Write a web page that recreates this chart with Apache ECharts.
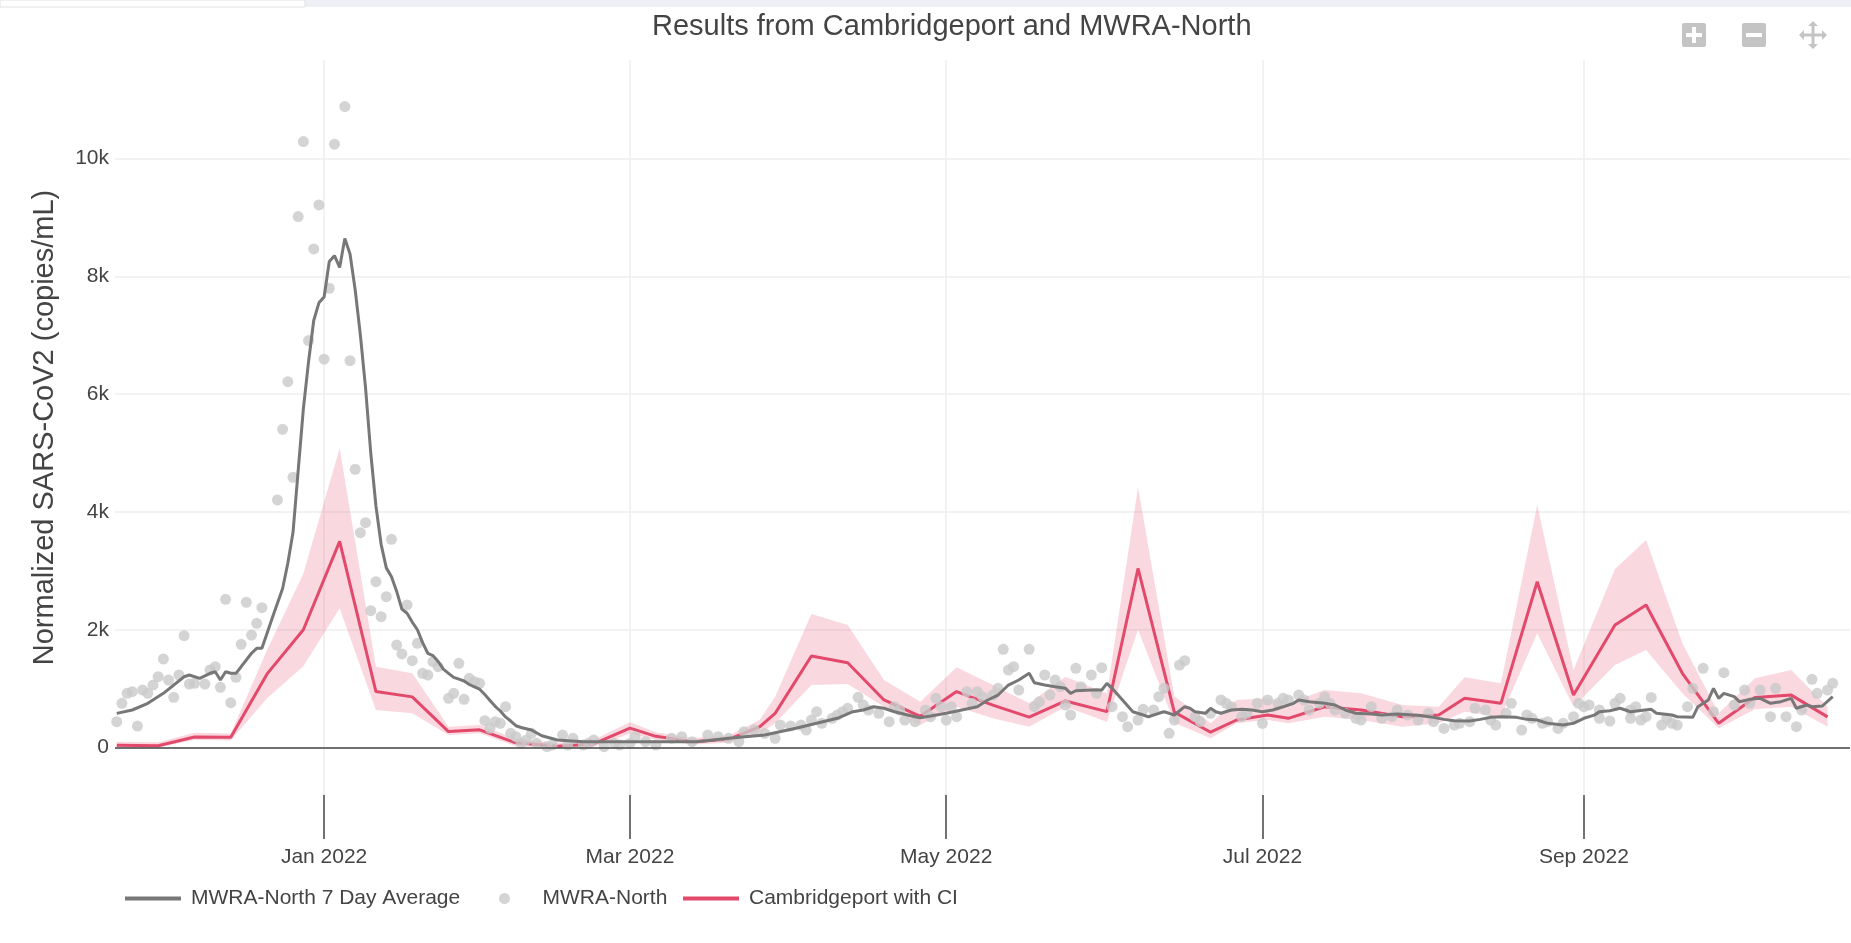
<!DOCTYPE html>
<html>
<head>
<meta charset="utf-8">
<script src="https://cdn.jsdelivr.net/npm/echarts@6/dist/echarts.min.js"></script>
<style>
html,body{margin:0;padding:0;background:#fff;}
#chart{width:1851px;height:943px;}
</style>
</head>
<body>
<div id="chart"></div>
<script>
// ---------- data ----------
const titleText = 'Results from Cambridgeport and MWRA-North';
const yTitle = 'Normalized SARS-CoV2 (copies/mL)';
const seriesNames = ['MWRA-North 7 Day Average', 'MWRA-North', 'Cambridgeport with CI'];

const xTickDates = ['2022-01-01', '2022-03-01', '2022-05-01', '2022-07-01', '2022-09-01'];
const xTickLabels = ['Jan 2022', 'Mar 2022', 'May 2022', 'Jul 2022', 'Sep 2022'];
const yTickValues = [0, 2000, 4000, 6000, 8000, 10000];
const yTickLabels = ['0', '2k', '4k', '6k', '8k', '10k'];

// MWRA-North 7 day average
const avgData = [
['2021-11-22',580],['2021-11-25',637],['2021-11-28',750],['2021-12-01',920],['2021-12-05',1202],['2021-12-06',1231],['2021-12-08',1175],['2021-12-10',1260],['2021-12-11',1287],['2021-12-12',1146],['2021-12-13',1287],['2021-12-14',1260],['2021-12-15',1260],['2021-12-16',1372],['2021-12-18',1600],['2021-12-19',1684],['2021-12-20',1684],['2021-12-21',1939],['2021-12-22',2200],['2021-12-23',2450],['2021-12-24',2700],['2021-12-25',3128],['2021-12-26',3650],['2021-12-27',4700],['2021-12-28',5750],['2021-12-29',6550],['2021-12-30',7250],['2021-12-31',7550],
['2022-01-01',7650],['2022-01-02',8250],['2022-01-03',8350],['2022-01-04',8150],['2022-01-05',8640],['2022-01-06',8380],['2022-01-07',7768],['2022-01-08',7000],['2022-01-09',6100],['2022-01-10',5000],['2022-01-11',4100],['2022-01-12',3450],['2022-01-13',3050],['2022-01-14',2900],['2022-01-15',2650],['2022-01-16',2350],['2022-01-17',2280],['2022-01-18',2130],['2022-01-19',2000],['2022-01-20',1780],['2022-01-21',1600],['2022-01-22',1560],['2022-01-23',1460],['2022-01-24',1330],['2022-01-25',1260],['2022-01-26',1190],['2022-01-27',1160],['2022-01-28',1130],['2022-01-29',1070],['2022-01-30',1030],['2022-01-31',990],
['2022-02-01',900],['2022-02-02',800],['2022-02-03',700],['2022-02-04',620],['2022-02-05',520],['2022-02-06',450],['2022-02-07',370],['2022-02-08',340],['2022-02-10',297],['2022-02-12',200],['2022-02-15',127],['2022-02-20',99],['2022-02-26',99],
['2022-03-02',99],['2022-03-14',99],['2022-03-20',156],['2022-03-27',212],['2022-04-02',326],['2022-04-06',411],['2022-04-10',496],['2022-04-13',608],['2022-04-15',637],['2022-04-17',693],['2022-04-19',666],['2022-04-21',608],['2022-04-25',523],['2022-04-26',506],['2022-04-28',535],
['2022-05-01',581],['2022-05-04',637],['2022-05-07',693],['2022-05-09',807],['2022-05-11',891],['2022-05-13',1061],['2022-05-15',1146],['2022-05-17',1260],['2022-05-18',1100],['2022-05-20',1061],['2022-05-22',1032],['2022-05-24',1005],['2022-05-25',920],['2022-05-26',964],['2022-05-29',976],['2022-05-31',976],
['2022-06-01',1090],['2022-06-02',1005],['2022-06-04',807],['2022-06-06',608],['2022-06-08',552],['2022-06-09',523],['2022-06-11',581],['2022-06-12',608],['2022-06-13',581],['2022-06-14',552],['2022-06-16',693],['2022-06-17',666],['2022-06-18',608],['2022-06-20',581],['2022-06-21',666],['2022-06-22',608],['2022-06-23',581],['2022-06-25',637],['2022-06-27',648],['2022-06-29',637],
['2022-07-01',608],['2022-07-03',637],['2022-07-05',693],['2022-07-07',750],['2022-07-08',807],['2022-07-10',778],['2022-07-13',750],['2022-07-15',722],['2022-07-17',637],['2022-07-19',581],['2022-07-22',569],['2022-07-24',552],['2022-07-27',569],['2022-07-31',546],
['2022-08-03',512],['2022-08-05',478],['2022-08-07',456],['2022-08-10',450],['2022-08-12',478],['2022-08-14',512],['2022-08-16',523],['2022-08-19',512],['2022-08-21',478],['2022-08-23',467],['2022-08-25',411],['2022-08-28',382],['2022-08-30',411],
['2022-09-01',496],['2022-09-03',550],['2022-09-04',608],['2022-09-06',625],['2022-09-08',666],['2022-09-10',608],['2022-09-12',630],['2022-09-14',648],['2022-09-15',581],['2022-09-18',552],['2022-09-19',523],['2022-09-22',512],['2022-09-23',693],['2022-09-25',807],['2022-09-26',1005],['2022-09-27',835],['2022-09-28',920],['2022-09-30',863],
['2022-10-01',778],['2022-10-03',818],['2022-10-05',835],['2022-10-07',750],['2022-10-09',778],['2022-10-11',835],['2022-10-12',666],['2022-10-14',722],['2022-10-15',693],['2022-10-17',705],['2022-10-19',863]
];

// MWRA-North individual samples
const mwraData = [
['2021-11-22',438],['2021-11-23',750],['2021-11-24',920],['2021-11-25',948],['2021-11-26',365],['2021-11-27',976],['2021-11-28',920],['2021-11-29',1061],['2021-11-30',1202],['2021-12-01',1503],['2021-12-02',1146],['2021-12-03',852],['2021-12-04',1231],['2021-12-05',1898],['2021-12-06',1078],['2021-12-07',1090],['2021-12-09',1078],['2021-12-10',1316],['2021-12-11',1372],['2021-12-12',1022],['2021-12-13',2516],['2021-12-14',761],['2021-12-15',1192],['2021-12-16',1752],['2021-12-17',2465],['2021-12-18',1910],['2021-12-19',2109],['2021-12-20',2374],['2021-12-23',4203],['2021-12-24',5403],['2021-12-25',6211],['2021-12-26',4588],['2021-12-27',9013],['2021-12-28',10287],['2021-12-29',6908],['2021-12-30',8465],['2021-12-31',9212],
['2022-01-01',6592],['2022-01-02',7797],['2022-01-03',10242],['2022-01-05',10881],['2022-01-06',6568],['2022-01-07',4724],['2022-01-08',3648],['2022-01-09',3817],['2022-01-10',2323],['2022-01-11',2815],['2022-01-12',2221],['2022-01-13',2561],['2022-01-14',3535],['2022-01-15',1740],['2022-01-16',1588],['2022-01-17',2420],['2022-01-18',1474],['2022-01-19',1769],['2022-01-20',1260],['2022-01-21',1231],['2022-01-22',1457],['2022-01-23',1372],['2022-01-25',835],['2022-01-26',920],['2022-01-27',1430],['2022-01-28',818],['2022-01-29',1175],['2022-01-30',1118],['2022-01-31',1090],
['2022-02-01',456],['2022-02-02',326],['2022-02-03',438],['2022-02-04',411],['2022-02-05',693],['2022-02-06',241],['2022-02-07',184],['2022-02-08',71],['2022-02-09',127],['2022-02-10',241],['2022-02-11',71],['2022-02-13',14],['2022-02-14',42],['2022-02-16',212],['2022-02-17',42],['2022-02-18',156],['2022-02-20',42],['2022-02-21',71],['2022-02-22',127],['2022-02-24',14],['2022-02-26',71],['2022-02-27',42],
['2022-03-01',71],['2022-03-02',184],['2022-03-04',99],['2022-03-06',42],['2022-03-09',156],['2022-03-11',184],['2022-03-13',99],['2022-03-16',212],['2022-03-18',184],['2022-03-20',156],['2022-03-22',99],['2022-03-23',269],['2022-03-25',297],['2022-03-27',240],['2022-03-29',156],['2022-03-30',382],
['2022-04-01',365],['2022-04-03',382],['2022-04-04',297],['2022-04-05',467],['2022-04-06',608],['2022-04-07',410],['2022-04-09',495],['2022-04-10',552],['2022-04-11',608],['2022-04-12',665],['2022-04-14',852],['2022-04-15',722],['2022-04-16',637],['2022-04-18',580],['2022-04-20',438],['2022-04-21',693],['2022-04-22',637],['2022-04-23',467],['2022-04-25',438],['2022-04-27',637],['2022-04-28',523],['2022-04-29',835],['2022-04-30',693],
['2022-05-01',467],['2022-05-02',693],['2022-05-03',523],['2022-05-05',948],['2022-05-06',750],['2022-05-07',948],['2022-05-08',863],['2022-05-10',891],['2022-05-11',1005],['2022-05-12',1667],['2022-05-13',1316],['2022-05-14',1372],['2022-05-15',976],['2022-05-17',1667],['2022-05-18',693],['2022-05-19',778],['2022-05-20',1231],['2022-05-21',891],['2022-05-22',1146],['2022-05-23',1033],['2022-05-24',722],['2022-05-25',552],['2022-05-26',1344],['2022-05-27',1033],['2022-05-29',1231],['2022-05-30',920],['2022-05-31',1355],
['2022-06-02',693],['2022-06-04',523],['2022-06-05',354],['2022-06-07',467],['2022-06-08',648],['2022-06-10',637],['2022-06-11',863],['2022-06-12',1005],['2022-06-13',241],['2022-06-14',467],['2022-06-15',1401],['2022-06-16',1474],['2022-06-18',523],['2022-06-19',438],['2022-06-21',580],['2022-06-23',807],['2022-06-24',750],['2022-06-25',693],['2022-06-27',523],['2022-06-28',580],['2022-06-30',750],
['2022-07-01',410],['2022-07-02',807],['2022-07-04',750],['2022-07-05',835],['2022-07-06',807],['2022-07-08',891],['2022-07-09',807],['2022-07-10',637],['2022-07-12',750],['2022-07-13',863],['2022-07-14',750],['2022-07-15',637],['2022-07-17',580],['2022-07-19',495],['2022-07-20',467],['2022-07-22',693],['2022-07-24',495],['2022-07-26',523],['2022-07-27',637],['2022-07-29',552],['2022-07-31',467],
['2022-08-02',580],['2022-08-03',438],['2022-08-05',325],['2022-08-07',382],['2022-08-08',410],['2022-08-10',438],['2022-08-11',665],['2022-08-13',637],['2022-08-14',467],['2022-08-15',382],['2022-08-17',580],['2022-08-18',750],['2022-08-20',297],['2022-08-21',552],['2022-08-22',495],['2022-08-24',410],['2022-08-25',438],['2022-08-27',325],['2022-08-28',410],['2022-08-30',523],['2022-08-31',750],
['2022-09-01',693],['2022-09-02',722],['2022-09-04',637],['2022-09-04',495],['2022-09-06',450],['2022-09-07',750],['2022-09-08',835],['2022-09-10',637],['2022-09-10',495],['2022-09-11',693],['2022-09-12',467],['2022-09-13',523],['2022-09-14',850],['2022-09-16',382],['2022-09-17',495],['2022-09-18',410],['2022-09-19',382],['2022-09-21',693],['2022-09-22',1005],['2022-09-24',1344],['2022-09-26',608],['2022-09-28',1271],['2022-09-30',722],
['2022-10-02',976],['2022-10-03',750],['2022-10-05',976],['2022-10-07',523],['2022-10-08',1005],['2022-10-10',523],['2022-10-12',354],['2022-10-13',637],['2022-10-15',1158],['2022-10-16',920],['2022-10-18',976],['2022-10-19',1090]
];

// Cambridgeport with confidence interval
const cpDates = ['2021-11-22','2021-11-30','2021-12-07','2021-12-14','2021-12-21','2021-12-28','2022-01-04','2022-01-11','2022-01-18','2022-01-25','2022-01-31','2022-02-07','2022-02-15','2022-02-22','2022-03-01','2022-03-06','2022-03-13','2022-03-20','2022-03-26','2022-03-29','2022-04-05','2022-04-12','2022-04-19','2022-04-26','2022-05-03','2022-05-10','2022-05-17','2022-05-24','2022-06-01','2022-06-07','2022-06-14','2022-06-21','2022-06-26','2022-07-02','2022-07-06','2022-07-13','2022-07-20','2022-07-28','2022-08-04','2022-08-09','2022-08-16','2022-08-23','2022-08-30','2022-09-07','2022-09-13','2022-09-20','2022-09-27','2022-10-04','2022-10-11','2022-10-18'];
const cpValues = [40,30,180,175,1250,2000,3500,950,860,270,300,80,20,60,330,190,100,140,350,580,1555,1440,807,530,950,720,515,790,610,3040,600,260,467,552,496,693,637,523,552,835,750,2815,891,2080,2420,1260,411,850,890,520];
const cpUpper = [100,90,250,240,1656,2950,5080,1372,1260,353,382,150,80,130,430,260,160,200,467,863,2267,2080,1146,778,1362,1061,750,1202,920,4420,870,411,807,835,750,976,920,722,693,1192,1090,4118,1316,3030,3523,1769,581,1175,1316,693];
const cpLower = [0,0,130,120,835,1380,2364,637,580,212,241,20,0,10,240,130,50,80,241,411,1061,1080,693,382,693,496,353,693,438,2000,420,156,411,467,411,523,467,353,411,608,523,1939,693,1400,1656,920,326,650,693,353];

// ---------- chart ----------
const toT = s => Date.UTC(+s.slice(0, 4), +s.slice(5, 7) - 1, +s.slice(8, 10));
const FONT = '"Liberation Sans", Arial, Helvetica, sans-serif';
const TXT = '#444';
const GRAY = '#777777', DOT = '#c9c9c9', RED = '#e2496b', BAND = 'rgba(236,90,122,0.24)';
const LINE_ICON = 'path://M0 0H56V4H0Z';
const xTickT = xTickDates.map(toT);
const xMin = Date.UTC(2021, 10, 21, 16);
const xMax = Date.UTC(2022, 9, 22, 8);

const chart = echarts.init(document.getElementById('chart'), null, { renderer: 'canvas' });

const panPts = [[0,-14],[5,-9],[1.5,-9],[1.5,-1.5],[9,-1.5],[9,-5],[14,0],[9,5],[9,1.5],[1.5,1.5],[1.5,9],[5,9],[0,14],[-5,9],[-1.5,9],[-1.5,1.5],[-9,1.5],[-9,5],[-14,0],[-9,-5],[-9,-1.5],[-1.5,-1.5],[-1.5,-9],[-5,-9]];

const legendBase = {
  top: 883, itemWidth: 56, itemHeight: 11, itemGap: 19,
  textStyle: { fontFamily: FONT, fontSize: 21, color: TXT, padding: [0, 0, 0, 5] }
};

const option = {
  animation: false,
  backgroundColor: '#ffffff',
  textStyle: { fontFamily: FONT },
  title: {
    text: titleText,
    left: 647, top: 7,
    textStyle: { fontFamily: FONT, fontSize: 29, fontWeight: 'normal', color: TXT }
  },
  grid: { left: 115, right: 1, top: 60, bottom: 148 },
  legend: [
    Object.assign({}, legendBase, { left: 120, data: [{ name: seriesNames[0], icon: LINE_ICON }] }),
    Object.assign({}, legendBase, { left: 494, data: [{ name: seriesNames[1], icon: 'circle' }] }),
    Object.assign({}, legendBase, { left: 678, data: [{ name: seriesNames[2], icon: LINE_ICON }] })
  ],
  xAxis: {
    type: 'value', min: xMin, max: xMax,
    axisLine: { show: false, onZero: false },
    axisTick: { show: true, length: 44, customValues: xTickT, lineStyle: { color: TXT, width: 1.5 } },
    axisLabel: {
      customValues: xTickT, margin: 52, fontSize: 21, color: TXT, fontFamily: FONT,
      formatter: v => { const i = xTickT.findIndex(t => Math.abs(t - v) < 43200000); return i >= 0 ? xTickLabels[i] : ''; }
    },
    splitLine: { show: true, lineStyle: { color: '#eeeeee', width: 1.5 } }
  },
  yAxis: {
    type: 'value', min: -806, max: 11672,
    name: yTitle, nameLocation: 'middle', nameGap: 56,
    nameTextStyle: { fontFamily: FONT, fontSize: 29, color: TXT },
    axisLine: { show: false },
    axisTick: { show: false, customValues: yTickValues },
    axisLabel: {
      customValues: yTickValues, margin: 6, fontSize: 21, color: TXT, fontFamily: FONT,
      formatter: v => { const i = yTickValues.indexOf(v); return i >= 0 ? yTickLabels[i] : ''; }
    },
    splitLine: { show: true, lineStyle: { color: '#eeeeee', width: 1.5 } }
  },
  graphic: [
    { type: 'rect', shape: { x: 0, y: 0, width: 1851, height: 7 }, style: { fill: '#eef0f6' }, silent: true },
    { type: 'rect', shape: { x: 0, y: 0, width: 305, height: 7 }, style: { fill: '#ffffff', stroke: '#e2e2e2', lineWidth: 1 }, silent: true },
    { type: 'rect', shape: { x: 1682, y: 23, width: 24, height: 24, r: 2 }, style: { fill: '#c4c4c4' }, silent: true },
    { type: 'rect', shape: { x: 1686, y: 33, width: 16, height: 4 }, style: { fill: '#ffffff' }, silent: true },
    { type: 'rect', shape: { x: 1692, y: 27, width: 4, height: 16 }, style: { fill: '#ffffff' }, silent: true },
    { type: 'rect', shape: { x: 1742, y: 23, width: 24, height: 24, r: 2 }, style: { fill: '#c4c4c4' }, silent: true },
    { type: 'rect', shape: { x: 1746, y: 33, width: 16, height: 4 }, style: { fill: '#ffffff' }, silent: true },
    { type: 'polygon', x: 1813, y: 35, shape: { points: panPts }, style: { fill: '#c4c4c4' }, silent: true }
  ],
  series: [
    {
      name: 'ci-band', type: 'custom', silent: true, z: 1,
      data: cpDates.map((d, i) => [toT(d), cpLower[i], cpUpper[i]]),
      encode: { x: 0, y: [1, 2] },
      renderItem: (params, api) => {
        if (params.dataIndex !== 0) return null;
        const up = [], lo = [];
        for (let i = 0; i < cpDates.length; i++) {
          up.push(api.coord([toT(cpDates[i]), cpUpper[i]]));
          lo.push(api.coord([toT(cpDates[i]), cpLower[i]]));
        }
        return { type: 'polygon', shape: { points: up.concat(lo.reverse()) }, style: { fill: BAND } };
      }
    },
    {
      name: seriesNames[2], type: 'line', symbol: 'none', z: 2,
      color: RED,
      lineStyle: { color: RED, width: 3 },
      data: cpDates.map((d, i) => [toT(d), cpValues[i]]),
      markLine: {
        silent: true, symbol: 'none', label: { show: false },
        lineStyle: { color: TXT, width: 1.5, type: 'solid' },
        data: [{ yAxis: 0 }]
      }
    },
    {
      name: seriesNames[1], type: 'scatter', symbol: 'circle', symbolSize: 11, z: 3,
      color: DOT,
      itemStyle: { color: DOT },
      data: mwraData.map(p => [toT(p[0]), p[1]])
    },
    {
      name: seriesNames[0], type: 'line', symbol: 'none', z: 4,
      color: GRAY,
      lineStyle: { color: GRAY, width: 3 },
      data: avgData.map(p => [toT(p[0]), p[1]])
    }
  ]
};
chart.setOption(option);
</script>
</body>
</html>
